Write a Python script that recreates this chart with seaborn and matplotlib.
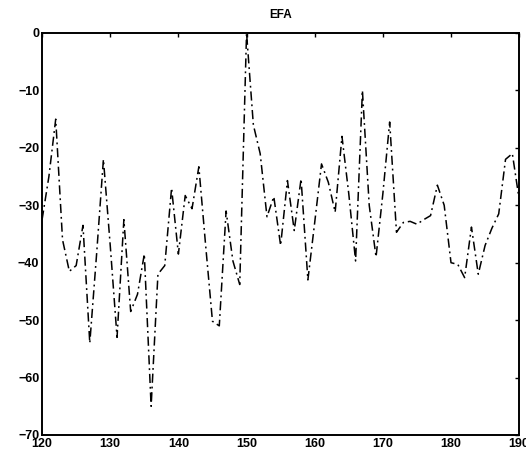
import matplotlib
matplotlib.use("Agg")
import matplotlib.pyplot as plt
import seaborn as sns
import pandas as pd

x_vals = list(range(120, 191))
efa = [-32.5, -25, -15, -36, -41.5, -40.5, -33.5, -54, -38.5, -22,
       -37, -53, -32.5, -48.5, -45.5, -38.5, -65, -42, -40.5, -27,
       -38.5, -28.3, -30.6, -23.3, -37, -50.2, -51, -31, -39.7, -43.8,
       0, -16, -21, -32, -28.5, -37, -25.7, -34.4, -25.4, -43,
       -33, -22.8, -26, -31.2, -18, -28, -39.7, -10, -30, -39,
       -28, -15.5, -34.7, -33, -32.8, -33.3, -32.5, -31.8, -26.5, -30,
       -40, -40.3, -42.6, -33.8, -42, -37, -34, -31.5, -22, -21,
       -29]
xticks = [120, 130, 140, 150, 160, 170, 180, 190]
yticks = [0, -10, -20, -30, -40, -50, -60, -70]

df = pd.DataFrame({"x": x_vals, "EFA": efa})

sns.set_theme(style="white")
plt.rcParams['font.family'] = ['Liberation Sans', 'DejaVu Sans']

fig = plt.figure(figsize=(5.26, 4.55), dpi=100)
ax = fig.add_axes([0.080, 0.044, 0.907, 0.8835])
sns.lineplot(data=df, x="x", y="EFA", ax=ax, color="black", linewidth=1.1,
             linestyle=(0, (6, 2.5, 1.2, 2.5)))

ax.set_xlim(120, 190)
ax.set_ylim(-70, 0)
ax.set_xticks(xticks)
ax.set_yticks(yticks)
ax.set_xlabel("")
ax.set_ylabel("")
ax.set_title("EFA", fontsize=8.5, fontweight="bold", pad=11, color="black")
for s in ax.spines.values():
    s.set_color("black")
    s.set_linewidth(1.4)
ax.tick_params(direction="in", length=3, width=1, top=True, right=True,
               labelsize=9, pad=2, colors="black")
for lab in ax.get_xticklabels() + ax.get_yticklabels():
    lab.set_fontweight("bold")

fig.savefig("out.png", dpi=100)
